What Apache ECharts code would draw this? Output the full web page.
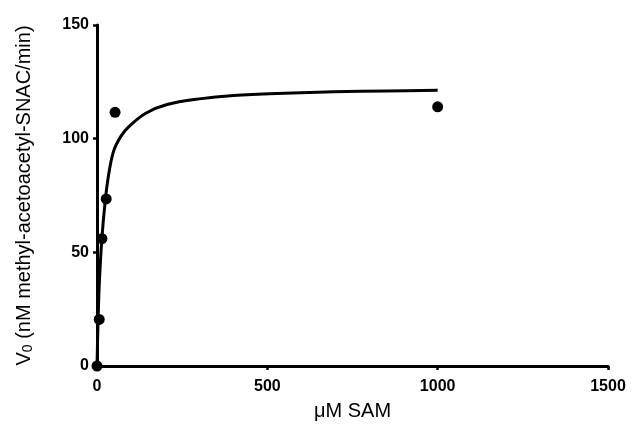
<!DOCTYPE html>
<html>
<head>
<meta charset="utf-8">
<script src="https://cdn.jsdelivr.net/npm/echarts@6/dist/echarts.min.js"></script>
<style>html,body{margin:0;padding:0;background:#fff}#c{width:632px;height:426px}</style>
</head>
<body>
<div id="c"></div>
<script>
// measured data points (μM SAM, V0)
var samConc = [0, 6.5, 14.5, 27, 53, 1000];
var v0 = [0, 20.5, 56, 73.5, 111.6, 114];
// fitted curve
var fitX = [0, 3, 7, 14.7, 24.4, 34, 48.7, 70, 92.8, 141.8, 205.5, 300, 401, 550, 695, 850, 1000];
var fitY = [0, 19, 37, 56.9, 73, 84, 94.5, 101, 105.2, 111.1, 115, 117.5, 119, 120, 120.6, 121, 121.3];
var xTicks = [0, 500, 1000, 1500];
var yTicks = [0, 50, 100, 150];

var pts = samConc.map(function (x, i) { return [x, v0[i]]; });
var fit = fitX.map(function (x, i) { return [x, fitY[i]]; });
var F = 'Liberation Sans, Arial, sans-serif';

var chart = echarts.init(document.getElementById('c'), null, {renderer: 'canvas'});
chart.setOption({
  animation: false,
  backgroundColor: '#fff',
  grid: {left: 97, right: 24, top: 25, bottom: 60, containLabel: false},
  xAxis: {
    type: 'value', min: xTicks[0], max: xTicks[xTicks.length - 1], interval: 500,
    name: 'μM SAM', nameLocation: 'middle', nameGap: 35,
    nameTextStyle: {fontFamily: F, fontSize: 20, color: '#000'},
    axisLine: {show: true, onZero: false, lineStyle: {color: '#000', width: 3}},
    axisTick: {show: true, length: 4, lineStyle: {color: '#000', width: 2.5}},
    axisLabel: {fontFamily: F, fontSize: 16, fontWeight: 'bold', color: '#000', margin: 13,
      formatter: function (v) { return String(v); }},
    splitLine: {show: false}
  },
  yAxis: {
    type: 'value', min: yTicks[0], max: yTicks[yTicks.length - 1], interval: 50,
    name: '{a|V}{s|0}{a| (nM methyl-acetoacetyl-SNAC/min)}',
    nameLocation: 'middle', nameGap: 62,
    nameTextStyle: {
      fontFamily: F, fontSize: 20, color: '#000',
      rich: {
        a: {fontFamily: F, fontSize: 20, color: '#000'},
        s: {fontFamily: F, fontSize: 14, color: '#000', verticalAlign: 'bottom', padding: [8, 0, 0, 0]}
      }
    },
    axisLine: {show: true, onZero: false, lineStyle: {color: '#000', width: 3}},
    axisTick: {show: true, length: 4, lineStyle: {color: '#000', width: 2.5}},
    axisLabel: {fontFamily: F, fontSize: 16, fontWeight: 'bold', color: '#000', margin: 8,
      formatter: function (v) { return String(v); }},
    splitLine: {show: false}
  },
  series: [
    {
      type: 'line', data: fit, smooth: 0.35, showSymbol: false,
      lineStyle: {color: '#000', width: 3}, z: 2
    },
    {
      type: 'scatter', data: pts, symbol: 'circle', symbolSize: 11,
      itemStyle: {color: '#000', opacity: 1}, z: 3, clip: false
    }
  ]
});
</script>
</body>
</html>
